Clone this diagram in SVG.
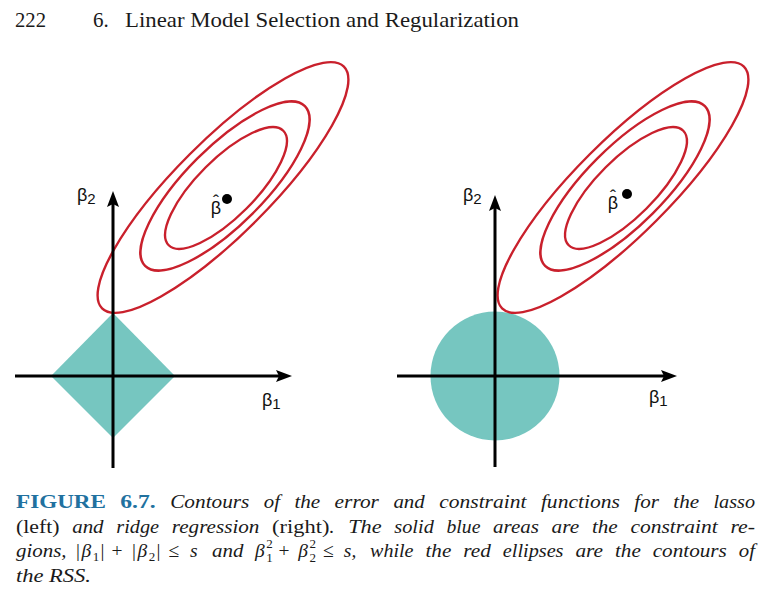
<svg xmlns="http://www.w3.org/2000/svg" width="774" height="589" viewBox="0 0 774 589">
<style>
  .hdr { font-family: "Liberation Serif", "DejaVu Serif", serif; font-size: 21px; fill: #1a1a1a; }
  .cap { font-family: "Liberation Serif", "DejaVu Serif", serif; font-size: 19.5px; fill: #1a1a1a; }
  .it { font-style: italic; }
  .up { font-style: normal; }
  .fig { font-weight: bold; fill: #21719f; font-style: normal; }
  .scr { font-size: 13px; font-style: normal; }
  .axis { stroke: #000; stroke-width: 3; fill: none; marker-end: url(#arr); }
  .rss { fill: none; stroke: #c9202c; stroke-width: 2.4; }
  .region { fill: #76c6c0; }
  .lbl { font-family: "Liberation Sans", Arial, sans-serif; font-size: 18px; fill: #111; }
  .sub { font-size: 15px; }
</style>
<defs>
  <marker id="arr" markerUnits="userSpaceOnUse" markerWidth="18" markerHeight="12" refX="4" refY="6" orient="auto">
    <path d="M0,0 L16,6 L0,12 L3,6 z" fill="#000"/>
  </marker>
</defs>
<rect width="774" height="589" fill="#fff"/>

<g id="header">
  <text class="hdr" x="15" y="27" textLength="31" lengthAdjust="spacingAndGlyphs">222</text>
  <text class="hdr" x="93" y="27">6.</text>
  <text class="hdr" x="125" y="27" textLength="394" lengthAdjust="spacingAndGlyphs">Linear Model Selection and Regularization</text>
</g>

<g id="lasso-panel">
  <g id="lasso-region"><polygon class="region" points="113,313 175,376 113,438 51,376"/></g>
  <g id="lasso-contours">
    <ellipse class="rss" cx="223" cy="187.5" rx="171" ry="47" transform="rotate(-45 223 187.5)"/>
    <ellipse class="rss" cx="225" cy="186" rx="113" ry="39" transform="rotate(-45 225 186)"/>
    <ellipse class="rss" cx="226" cy="188" rx="81" ry="29" transform="rotate(-45 226 188)"/>
  </g>
  <g id="lasso-axes">
    <path class="axis" d="M15,376 H280"/>
    <path class="axis" d="M113,468 V203"/>
  </g>
  <g id="lasso-beta-hat">
    <circle cx="227" cy="199" r="5" fill="#000"/>
    <text class="lbl" x="210.8" y="214">β<tspan x="213" y="208">ˆ</tspan></text>
  </g>
  <text class="lbl" x="77" y="201">β<tspan class="sub" dy="3">2</tspan></text>
  <text class="lbl" x="262" y="406">β<tspan class="sub" dy="3">1</tspan></text>
</g>

<g id="ridge-panel">
  <g id="ridge-region"><circle class="region" cx="495" cy="376" r="64.5"/></g>
  <g id="ridge-contours">
    <ellipse class="rss" cx="623" cy="187.5" rx="171" ry="47" transform="rotate(-45 623 187.5)"/>
    <ellipse class="rss" cx="625" cy="186" rx="113" ry="39" transform="rotate(-45 625 186)"/>
    <ellipse class="rss" cx="626" cy="188" rx="81" ry="29" transform="rotate(-45 626 188)"/>
  </g>
  <g id="ridge-axes">
    <path class="axis" d="M397,376 H665"/>
    <path class="axis" d="M495,467 V207"/>
  </g>
  <g id="ridge-beta-hat">
    <circle cx="627" cy="194" r="5" fill="#000"/>
    <text class="lbl" x="607.8" y="209">β<tspan x="610" y="203">ˆ</tspan></text>
  </g>
  <text class="lbl" x="463" y="201">β<tspan class="sub" dy="3">2</tspan></text>
  <text class="lbl" x="649" y="403">β<tspan class="sub" dy="3">1</tspan></text>
</g>

<g id="caption">
  <text class="cap" y="508"><tspan class="fig" x="16" textLength="90" lengthAdjust="spacingAndGlyphs">FIGURE</tspan><tspan class="fig" x="120.3" textLength="35.4" lengthAdjust="spacingAndGlyphs">6.7.</tspan><tspan class="it" x="170.2" textLength="79.2" lengthAdjust="spacingAndGlyphs">Contours</tspan><tspan class="it" x="263.8" textLength="16.2" lengthAdjust="spacingAndGlyphs">of</tspan><tspan class="it" x="294.4" textLength="25.8" lengthAdjust="spacingAndGlyphs">the</tspan><tspan class="it" x="334.6" textLength="44.3" lengthAdjust="spacingAndGlyphs">error</tspan><tspan class="it" x="393.4" textLength="31.4" lengthAdjust="spacingAndGlyphs">and</tspan><tspan class="it" x="439.2" textLength="87.3" lengthAdjust="spacingAndGlyphs">constraint</tspan><tspan class="it" x="540.9" textLength="78.9" lengthAdjust="spacingAndGlyphs">functions</tspan><tspan class="it" x="634.3" textLength="24.6" lengthAdjust="spacingAndGlyphs">for</tspan><tspan class="it" x="673.3" textLength="25.8" lengthAdjust="spacingAndGlyphs">the</tspan><tspan class="it" x="713.5" textLength="41.5" lengthAdjust="spacingAndGlyphs">lasso</tspan></text>
  <text class="cap" y="532.5"><tspan class="up" x="16" textLength="43.5" lengthAdjust="spacingAndGlyphs">(left)</tspan><tspan class="it" x="72.2" textLength="31.4" lengthAdjust="spacingAndGlyphs">and</tspan><tspan class="it" x="116.3" textLength="42.8" lengthAdjust="spacingAndGlyphs">ridge</tspan><tspan class="it" x="171.8" textLength="87.6" lengthAdjust="spacingAndGlyphs">regression</tspan><tspan class="up" x="272.1" textLength="57.3" lengthAdjust="spacingAndGlyphs">(right)</tspan><tspan class="it" x="329.6">.</tspan><tspan class="it" x="348.2" textLength="33.4" lengthAdjust="spacingAndGlyphs">The</tspan><tspan class="it" x="394.3" textLength="39.5" lengthAdjust="spacingAndGlyphs">solid</tspan><tspan class="it" x="446.5" textLength="33.9" lengthAdjust="spacingAndGlyphs">blue</tspan><tspan class="it" x="493.1" textLength="45.8" lengthAdjust="spacingAndGlyphs">areas</tspan><tspan class="it" x="551.6" textLength="27.6" lengthAdjust="spacingAndGlyphs">are</tspan><tspan class="it" x="591.9" textLength="25.8" lengthAdjust="spacingAndGlyphs">the</tspan><tspan class="it" x="630.4" textLength="87.3" lengthAdjust="spacingAndGlyphs">constraint</tspan><tspan class="it" x="730.4" textLength="24.6" lengthAdjust="spacingAndGlyphs">re-</tspan></text>
  <text class="cap" y="557"><tspan class="it" x="16" textLength="50.6" lengthAdjust="spacingAndGlyphs">gions,</tspan><tspan class="up" x="76">|</tspan><tspan class="it" x="81.5">β</tspan><tspan class="scr" x="92.7" y="561">1</tspan><tspan class="up" x="100.6" y="557">|</tspan><tspan class="up" x="111.5">+</tspan><tspan class="up" x="132">|</tspan><tspan class="it" x="137.5">β</tspan><tspan class="scr" x="148.7" y="561">2</tspan><tspan class="up" x="156.6" y="557">|</tspan><tspan class="up" x="168.5">≤</tspan><tspan class="it" x="190">s</tspan><tspan class="it" x="212" textLength="31.4" lengthAdjust="spacingAndGlyphs">and</tspan><tspan class="it" x="255">β</tspan><tspan class="scr" x="266.2" y="562">1</tspan><tspan class="scr" x="266.2" y="548">2</tspan><tspan class="up" x="278.5" y="557">+</tspan><tspan class="it" x="298.3">β</tspan><tspan class="scr" x="309.5" y="562">2</tspan><tspan class="scr" x="309.5" y="548">2</tspan><tspan class="up" x="322.9" y="557">≤</tspan><tspan class="it" x="343.8">s,</tspan><tspan class="it" x="370" textLength="43.5" lengthAdjust="spacingAndGlyphs">while</tspan><tspan class="it" x="425.5" textLength="25.8" lengthAdjust="spacingAndGlyphs">the</tspan><tspan class="it" x="463.2" textLength="27.6" lengthAdjust="spacingAndGlyphs">red</tspan><tspan class="it" x="502.8" textLength="60.7" lengthAdjust="spacingAndGlyphs">ellipses</tspan><tspan class="it" x="575.4" textLength="27.6" lengthAdjust="spacingAndGlyphs">are</tspan><tspan class="it" x="615" textLength="25.8" lengthAdjust="spacingAndGlyphs">the</tspan><tspan class="it" x="652.7" textLength="74.1" lengthAdjust="spacingAndGlyphs">contours</tspan><tspan class="it" x="738.8" textLength="16.2" lengthAdjust="spacingAndGlyphs">of</tspan></text>
  <text class="cap it" x="16" y="581.5" textLength="75" lengthAdjust="spacingAndGlyphs">the RSS.</text>
</g>
</svg>
